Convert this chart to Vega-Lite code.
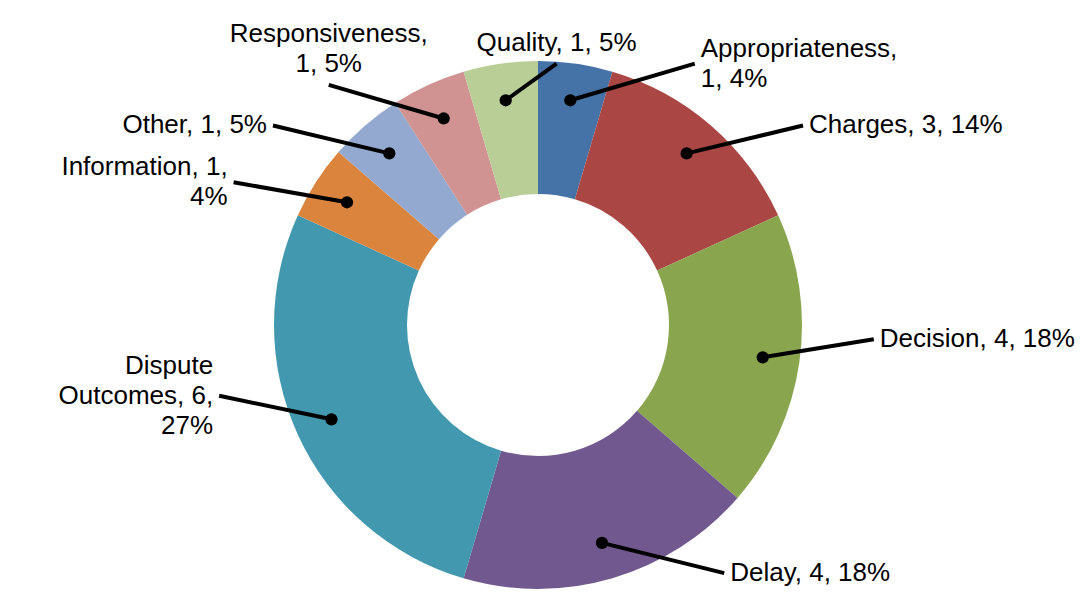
{
  "$schema": "https://vega.github.io/schema/vega-lite/v6.json",
  "width": 1080,
  "height": 594,
  "padding": 0,
  "autosize": {"type": "fit", "contains": "padding"},
  "background": "white",
  "config": {"view": {"stroke": null}},
  "data": {
    "values": [
      {"category": "Appropriateness", "count": 1, "pct": "4%", "label": "Appropriateness,\n1, 4%"},
      {"category": "Charges", "count": 3, "pct": "14%", "label": "Charges, 3, 14%"},
      {"category": "Decision", "count": 4, "pct": "18%", "label": "Decision, 4, 18%"},
      {"category": "Delay", "count": 4, "pct": "18%", "label": "Delay, 4, 18%"},
      {"category": "Dispute Outcomes", "count": 6, "pct": "27%", "label": "Dispute\nOutcomes, 6,\n27%"},
      {"category": "Information", "count": 1, "pct": "4%", "label": "Information, 1,\n4%"},
      {"category": "Other", "count": 1, "pct": "5%", "label": "Other, 1, 5%"},
      {"category": "Responsiveness", "count": 1, "pct": "5%", "label": "Responsiveness,\n1, 5%"},
      {"category": "Quality", "count": 1, "pct": "5%", "label": "Quality, 1, 5%"}
    ]
  },
  "transform": [
    {"window": [{"op": "row_number", "as": "idx"}, {"op": "sum", "field": "count", "as": "cum"}], "frame": [null, 0]},
    {"joinaggregate": [{"op": "sum", "field": "count", "as": "total"}]},
    {"calculate": "2 * PI * (datum.cum - datum.count / 2) / datum.total", "as": "mid"},
    {"calculate": "sin(datum.mid)", "as": "s"},
    {"calculate": "cos(datum.mid)", "as": "c"},
    {"calculate": "datum.c > 0.8 && datum.s < 0", "as": "top"},
    {"calculate": "0.86 * datum.s", "as": "dotX"},
    {"calculate": "0.86 * datum.c", "as": "dotY"},
    {"calculate": "datum.top ? 3.16 * datum.s + 0.52 : (datum.s < 0 ? -1 : 1) * (0.48 + 0.8 * abs(datum.s))", "as": "endX"},
    {"calculate": "datum.c < 0 ? -pow(-datum.c, 1.5) : datum.c", "as": "endY"},
    {"calculate": "length(split(datum.label, '\\n'))", "as": "nLines"},
    {"calculate": "datum.endY + (datum.nLines - 1) * 0.5 * 30 / 264", "as": "textYMid"},
    {"calculate": "datum.endY + (datum.nLines - 1) * 30 / 264", "as": "textYBottom"}
  ],
  "layer": [
    {
      "mark": {"type": "arc", "outerRadius": 264, "innerRadius": 131},
      "encoding": {
        "x": {"datum": 0, "type": "quantitative", "scale": {"domain": [-2.03788, 2.05303], "nice": false, "zero": false}, "axis": null},
        "y": {"datum": 0, "type": "quantitative", "scale": {"domain": [-1.01894, 1.23106], "nice": false, "zero": false}, "axis": null},
        "theta": {"field": "count", "type": "quantitative", "stack": true},
        "order": {"field": "idx", "type": "quantitative"},
        "color": {
          "field": "category",
          "type": "nominal",
          "legend": null,
          "scale": {
            "domain": ["Appropriateness", "Charges", "Decision", "Delay", "Dispute Outcomes", "Information", "Other", "Responsiveness", "Quality"],
            "range": ["#4572A7", "#AA4643", "#89A54E", "#71588F", "#4198AF", "#DB843D", "#93A9CF", "#D19392", "#B9CD96"]
          }
        }
      }
    },
    {
      "mark": {"type": "rule", "color": "#000000", "strokeWidth": 4},
      "encoding": {
        "x": {"field": "dotX", "type": "quantitative", "axis": null},
        "y": {"field": "dotY", "type": "quantitative", "axis": null},
        "x2": {"field": "endX"},
        "y2": {"field": "endY"}
      }
    },
    {
      "mark": {"type": "point", "filled": true, "color": "#000000", "size": 150, "opacity": 1},
      "encoding": {
        "x": {"field": "dotX", "type": "quantitative", "axis": null},
        "y": {"field": "dotY", "type": "quantitative", "axis": null}
      }
    },
    {
      "transform": [{"filter": "datum.top"}],
      "mark": {"type": "text", "align": "center", "baseline": "bottom", "dy": -8, "font": "Liberation Sans", "fontSize": 26, "lineHeight": 30, "lineBreak": "\n", "color": "#000000"},
      "encoding": {
        "x": {"field": "endX", "type": "quantitative", "axis": null},
        "y": {"field": "textYBottom", "type": "quantitative", "axis": null},
        "text": {"field": "label"}
      }
    },
    {
      "transform": [{"filter": "!datum.top && datum.s < 0"}],
      "mark": {"type": "text", "align": "right", "baseline": "middle", "dx": -6, "font": "Liberation Sans", "fontSize": 26, "lineHeight": 30, "lineBreak": "\n", "color": "#000000"},
      "encoding": {
        "x": {"field": "endX", "type": "quantitative", "axis": null},
        "y": {"field": "textYMid", "type": "quantitative", "axis": null},
        "text": {"field": "label"}
      }
    },
    {
      "transform": [{"filter": "!datum.top && datum.s >= 0"}],
      "mark": {"type": "text", "align": "left", "baseline": "middle", "dx": 6, "font": "Liberation Sans", "fontSize": 26, "lineHeight": 30, "lineBreak": "\n", "color": "#000000"},
      "encoding": {
        "x": {"field": "endX", "type": "quantitative", "axis": null},
        "y": {"field": "textYMid", "type": "quantitative", "axis": null},
        "text": {"field": "label"}
      }
    }
  ]
}
